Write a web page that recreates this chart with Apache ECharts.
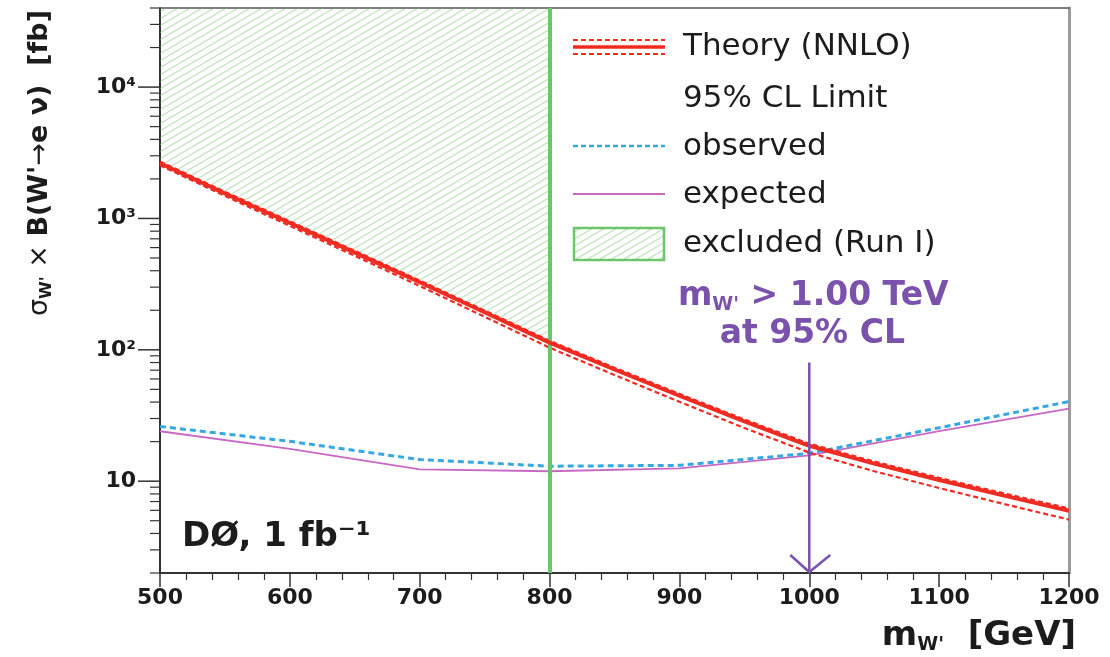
<!DOCTYPE html>
<html><head><meta charset="utf-8">
<script src="https://cdn.jsdelivr.net/npm/echarts@6/dist/echarts.min.js"></script>
<style>html,body{margin:0;padding:0;background:#fff;} #c{width:1110px;height:657px;}</style>
</head><body><div id="c"></div>
<script>
// ---- data ----
const masses     = [500, 550, 600, 650, 700, 750, 800, 850, 900, 950, 1000, 1050, 1100, 1150, 1200];
const theory     = [2630, 1550, 923, 550, 327, 193, 113.5, 70.8, 44.7, 28.5, 18.6, 13.6, 10.2, 7.76, 5.96];
const theoryUp   = [2710, 1597, 951, 567, 337, 199, 117.2, 73.1, 46.2, 29.5, 19.3, 14.1, 10.6, 8.07, 6.21];
const theoryDown = [2540, 1484, 877, 519, 306, 178.5, 103.9, 64.3, 40.2, 25.4, 16.5, 11.9, 8.87, 6.70, 5.10];
const limitMasses = [500, 600, 700, 800, 900, 1000, 1100, 1200];
const observed    = [26.1, 20.1, 14.6, 13.0, 13.2, 16.3, 25.5, 40.4];
const expected    = [24.0, 17.6, 12.3, 11.9, 12.5, 15.7, 24.0, 35.7];
const xTickLabels = ['500','600','700','800','900','1000','1100','1200'];
const yTickLabels = ['', '10', '10²', '10³', '10⁴'];
const xMin = 500, xMax = 1200, yMin = 2, yMax = 40000;
const runIExclusion = 800;   // GeV
const massLimit = 1000;      // GeV
const arrowTop = 80;         // fb

const FONT = "'DejaVu Sans', sans-serif";
const INK = '#1c1c1c';
const RED = '#ef2b22';
const BLUE = '#35a7e2';
const PINK = '#c868c4';
const GREEN = '#6cc56a';
const PURPLE = '#7a52ab';

// hatch pattern
const hatchCanvas = document.createElement('canvas');
hatchCanvas.width = 12; hatchCanvas.height = 7;
const hc = hatchCanvas.getContext('2d');
hc.strokeStyle = 'rgba(105,192,95,0.45)';
hc.lineWidth = 1.1;
for (const k of [-1, 0, 1]) {
  hc.beginPath(); hc.moveTo(0, 7 + k * 7); hc.lineTo(12, k * 7); hc.stroke();
}
const hatch = { image: hatchCanvas, repeat: 'repeat' };

const chart = echarts.init(document.getElementById('c'), null, { renderer: 'canvas' });
const option = {
  animation: false,
  backgroundColor: '#fff',
  textStyle: { fontFamily: FONT },
  grid: { left: 160, right: 41, top: 8, bottom: 84, containLabel: false, outerBoundsMode: 'none' },
  xAxis: [{
    type: 'value', min: xMin, max: xMax, interval: 100,
    axisLine: { show: true, onZero: false, lineStyle: { color: '#333', width: 2 } },
    axisTick: { show: true, inside: false, length: 14, lineStyle: { color: '#333', width: 1.5 } },
    minorTick: { show: true, splitNumber: 5, length: 7, lineStyle: { color: '#333', width: 1.2 } },
    axisLabel: { margin: 14, color: INK, fontSize: 22, fontWeight: 'bold', fontFamily: FONT,
      formatter: v => { const i = Math.round((v - xMin) / 100); return xTickLabels[i] || ''; } },
    splitLine: { show: false }, minorSplitLine: { show: false }
  }, {
    type: 'value', min: xMin, max: xMax, position: 'top',
    axisLine: { show: true, onZero: false, lineStyle: { color: '#555', width: 1.5 } },
    axisTick: { show: false }, axisLabel: { show: false }, splitLine: { show: false }
  }],
  yAxis: [{
    type: 'log', logBase: 10, min: yMin, max: yMax,
    axisLine: { show: true, onZero: false, lineStyle: { color: '#333', width: 2 } },
    axisTick: { show: false },
    axisLabel: { margin: 24, color: INK, fontSize: 22, fontWeight: 'bold', fontFamily: FONT,
      showMinLabel: true, showMaxLabel: true,
      formatter: v => { const l = Math.log10(v); const e = Math.round(l);
        if (Math.abs(l - e) > 1e-6) return ''; return yTickLabels[e] || ''; } },
    splitLine: { show: false }
  }, {
    type: 'log', logBase: 10, min: yMin, max: yMax, position: 'right',
    axisLine: { show: true, onZero: false, lineStyle: { color: '#9a9a9a', width: 3 } },
    axisTick: { show: false }, axisLabel: { show: false }, splitLine: { show: false }
  }],
  series: [
    { // Run I excluded region (hatched)
      type: 'custom', coordinateSystem: 'cartesian2d', z: 1, silent: true, clip: true,
      data: [[xMin, yMax]],
      renderItem: (params, api) => {
        const pts = [api.coord([xMin, yMax]), api.coord([runIExclusion, yMax])];
        for (let i = masses.length - 1; i >= 0; i--) {
          if (masses[i] <= runIExclusion) pts.push(api.coord([masses[i], theoryUp[i]]));
        }
        return { type: 'polygon', shape: { points: pts }, style: { fill: hatch, stroke: null } };
      }
    },
    { name: 'expected', type: 'line', z: 2, data: limitMasses.map((m, i) => [m, expected[i]]),
      showSymbol: false, lineStyle: { color: PINK, width: 1.8 },
      markLine: { silent: true, symbol: ['none', 'none'], label: { show: false },
        lineStyle: { color: GREEN, width: 4, type: 'solid' }, data: [{ xAxis: runIExclusion }] } },
    { name: 'observed', type: 'line', z: 3, data: limitMasses.map((m, i) => [m, observed[i]]),
      showSymbol: false, lineStyle: { color: BLUE, width: 3, type: [6, 4] } },
    { name: 'theoryUp', type: 'line', z: 4, data: masses.map((m, i) => [m, theoryUp[i]]),
      showSymbol: false, lineStyle: { color: RED, width: 2.2, type: [5, 3] } },
    { name: 'theoryDown', type: 'line', z: 4, data: masses.map((m, i) => [m, theoryDown[i]]),
      showSymbol: false, lineStyle: { color: RED, width: 2.2, type: [5, 3] } },
    { name: 'Theory (NNLO)', type: 'line', z: 5, data: masses.map((m, i) => [m, theory[i]]),
      showSymbol: false, lineStyle: { color: RED, width: 4 } },
    { // y-axis ticks (major + minor, log decades)
      type: 'custom', coordinateSystem: 'cartesian2d', z: 6, silent: true, clip: false,
      data: [[xMin, 10]],
      renderItem: (params, api) => {
        const children = [];
        for (let e = 0; e <= 5; e++) for (let m = 1; m <= 9; m++) {
          const v = m * Math.pow(10, e);
          if (v < yMin || v > yMax) continue;
          const p = api.coord([xMin, v]);
          const len = m === 1 ? 22 : 10;
          children.push({ type: 'line', shape: { x1: p[0] - len, y1: p[1], x2: p[0] - 1, y2: p[1] },
            style: { stroke: '#333', lineWidth: m === 1 ? 1.5 : 1.2 } });
        }
        return { type: 'group', children };
      }
    },
    { // limit arrow and annotation
      type: 'custom', coordinateSystem: 'cartesian2d', z: 7, silent: true, clip: false,
      data: [[massLimit, arrowTop]],
      renderItem: (params, api) => {
        const top = api.coord([massLimit, arrowTop]);
        const bot = api.coord([massLimit, yMin]);
        return { type: 'group', children: [
          { type: 'line', shape: { x1: top[0], y1: top[1], x2: bot[0], y2: bot[1] - 1 },
            style: { stroke: PURPLE, lineWidth: 2.5 } },
          { type: 'polyline', shape: { points: [[bot[0] - 19, bot[1] - 18], [bot[0], bot[1] - 1], [bot[0] + 21, bot[1] - 18]] },
            style: { stroke: PURPLE, lineWidth: 2.5, fill: null } },
          { type: 'text', x: top[0] + 3, y: top[1] - 28,
            style: { text: 'at 95% CL', fill: PURPLE, fontSize: 33, fontWeight: 'bold', fontFamily: FONT,
              align: 'center', verticalAlign: 'middle' } },
          { type: 'text', x: top[0] + 4, y: top[1] - 66,
            style: { text: "{b|m}{s|W'}{b| > 1.00 TeV}", fill: PURPLE, align: 'center', verticalAlign: 'middle',
              rich: { b: { fontSize: 33, fontWeight: 'bold', fontFamily: FONT, fill: PURPLE },
                      s: { fontSize: 19, fontWeight: 'bold', fontFamily: FONT, fill: PURPLE, padding: [18, 0, 0, 0] } } } }
        ] };
      }
    }
  ],
  graphic: [
    // axis titles
    { type: 'text', x: 40, y: 10, rotation: Math.PI / 2, silent: true,
      style: { text: "{n|σ}{s|W'}{n| × }{b|B(W'}{n|→}{b|e ν)  [fb]}", fill: INK, align: 'right', verticalAlign: 'middle',
        rich: { b: { fontSize: 27, fontWeight: 'bold', fontFamily: FONT, fill: INK },
                n: { fontSize: 27, fontWeight: 'normal', fontFamily: FONT, fill: INK },
                s: { fontSize: 16, fontWeight: 'bold', fontFamily: FONT, fill: INK, padding: [14, 0, 0, 0] } } } },
    { type: 'text', x: 1076, y: 636, silent: true,
      style: { text: "{b|m}{s|W'}{b|  [GeV]}", fill: INK, align: 'right', verticalAlign: 'middle',
        rich: { b: { fontSize: 34, fontWeight: 'bold', fontFamily: FONT, fill: INK },
                s: { fontSize: 19, fontWeight: 'bold', fontFamily: FONT, fill: INK, padding: [18, 0, 0, 0] } } } },
    // experiment label
    { type: 'text', x: 182, y: 537, silent: true,
      style: { text: 'DØ, 1 fb⁻¹', fill: INK, fontSize: 34, fontWeight: 'bold', fontFamily: FONT,
        align: 'left', verticalAlign: 'middle' } },
    // legend
    { type: 'line', silent: true, shape: { x1: 573, y1: 40, x2: 665, y2: 40 }, style: { stroke: RED, lineWidth: 2, lineDash: [5, 3] } },
    { type: 'line', silent: true, shape: { x1: 573, y1: 47, x2: 665, y2: 47 }, style: { stroke: RED, lineWidth: 3.5 } },
    { type: 'line', silent: true, shape: { x1: 573, y1: 54, x2: 665, y2: 54 }, style: { stroke: RED, lineWidth: 2, lineDash: [5, 3] } },
    { type: 'text', x: 683, y: 47, silent: true, style: { text: 'Theory (NNLO)', fill: INK, fontSize: 31, fontFamily: FONT, verticalAlign: 'middle' } },
    { type: 'text', x: 683, y: 99, silent: true, style: { text: '95% CL Limit', fill: INK, fontSize: 31, fontFamily: FONT, verticalAlign: 'middle' } },
    { type: 'line', silent: true, shape: { x1: 573, y1: 146, x2: 665, y2: 146 }, style: { stroke: BLUE, lineWidth: 2.5, lineDash: [5, 3] } },
    { type: 'text', x: 683, y: 147, silent: true, style: { text: 'observed', fill: INK, fontSize: 31, fontFamily: FONT, verticalAlign: 'middle' } },
    { type: 'line', silent: true, shape: { x1: 573, y1: 194, x2: 665, y2: 194 }, style: { stroke: PINK, lineWidth: 1.8 } },
    { type: 'text', x: 683, y: 195, silent: true, style: { text: 'expected', fill: INK, fontSize: 31, fontFamily: FONT, verticalAlign: 'middle' } },
    { type: 'rect', silent: true, shape: { x: 574, y: 228, width: 90, height: 32 }, style: { fill: hatch, stroke: GREEN, lineWidth: 2.5 } },
    { type: 'text', x: 683, y: 244, silent: true, style: { text: 'excluded (Run I)', fill: INK, fontSize: 31, fontFamily: FONT, verticalAlign: 'middle' } }
  ]
};
chart.setOption(option);
</script>
</body></html>
